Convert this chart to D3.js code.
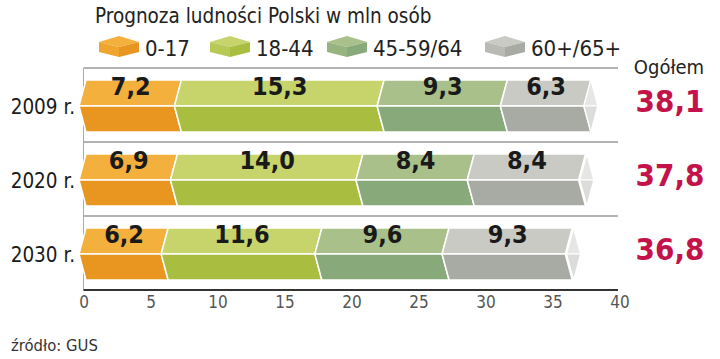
<!DOCTYPE html>
<html><head><meta charset="utf-8">
<script src="https://cdn.jsdelivr.net/npm/d3@7"></script>
<style>
html,body{margin:0;padding:0;background:#fff;}
svg{display:block;}
text{font-family:'Liberation Sans Narrow','DejaVu Sans Condensed','Roboto Condensed','Arial Narrow',sans-serif;font-stretch:condensed;}
</style></head>
<body>
<svg id="c" width="720" height="359"></svg>
<script>
const years = ["2009 r.", "2020 r.", "2030 r."];
const groups = ["0-17", "18-44", "45-59/64", "60+/65+"];
const v0_17 = [7.2, 6.9, 6.2];
const v18_44 = [15.3, 14.0, 11.6];
const v45_64 = [9.3, 8.4, 9.6];
const v60 = [6.3, 8.4, 9.3];
const totals = [38.1, 37.8, 36.8];
const labels = [["7,2","15,3","9,3","6,3"],["6,9","14,0","8,4","8,4"],["6,2","11,6","9,6","9,3"]];
const totalLabels = ["38,1", "37,8", "36,8"];
const ticks = [0, 5, 10, 15, 20, 25, 30, 35, 40];
const title = "Prognoza ludności Polski w mln osób";
const totalTitle = "Ogółem";
const source = "źródło: GUS";

const topCol = ["#f4b03c", "#c7d46c", "#a9c08a", "#c9cac3"];
const botCol = ["#e8961f", "#a9be40", "#88a97a", "#a8aba4"];
const sideCol = ["#f0a52e", "#b9c955", "#97b380", "#b8bab3"];

const svg = d3.select("#c");
const x = d3.scaleLinear().domain([0, 40]).range([83.5, 619.5]);
const xb = d3.scaleLinear().domain([0, 40]).range([86, 616]);
const y = d3.scaleBand().domain(years).range([68, 290]);
const series = [v0_17, v18_44, v45_64, v60];

// title
svg.append("text").attr("x", 95).attr("y", 23).attr("font-size", 20.5).attr("fill", "#222").text(title);

// legend
const legX = [99, 210, 327, 485];
groups.forEach((g, i) => {
  const lx = legX[i], ly = 36;
  const gg = svg.append("g");
  gg.append("polygon").attr("points", [[lx+20,ly],[lx+40,ly+6],[lx+20,ly+11],[lx,ly+6]].join(" ")).attr("fill", topCol[i]);
  gg.append("polygon").attr("points", [[lx,ly+6],[lx+20,ly+11],[lx+20,ly+21],[lx,ly+16]].join(" ")).attr("fill", sideCol[i]);
  gg.append("polygon").attr("points", [[lx+20,ly+11],[lx+40,ly+6],[lx+40,ly+16],[lx+20,ly+21]].join(" ")).attr("fill", botCol[i]);
  svg.append("text").attr("x", lx + 46).attr("y", 56).attr("font-size", 22).attr("fill", "#222").text(g);
});

svg.append("text").attr("x", 669).attr("y", 74).attr("text-anchor", "middle").attr("font-size", 20).attr("fill", "#222").text(totalTitle);

// separators
const seps = years.map(d => y(d));
svg.selectAll("line.sep").data(seps).enter().append("line")
  .attr("x1", x(0)).attr("x2", 618).attr("y1", d => d).attr("y2", d => d)
  .attr("stroke", "#9a9a9a").attr("stroke-width", 1.5);
svg.append("line").attr("x1", x(0)).attr("x2", x(0)).attr("y1", 68).attr("y2", 290).attr("stroke", "#aaa").attr("stroke-width", 1);

// bars
const dep = 7;
years.forEach((yr, r) => {
  const top = y(yr) + 12, bot = y(yr) + 64, mid = (top + bot) / 2;
  let cum = 0;
  const g = svg.append("g");
  series.forEach((s, i) => {
    const a = cum, b = cum + s[r];
    cum = b;
    const xa = xb(a), xe = xb(b);
    g.append("polygon").attr("points", [[xa,top],[xe,top],[xe-dep,mid],[xa-dep,mid]].join(" "))
      .attr("fill", topCol[i]).attr("stroke", "#fff").attr("stroke-width", 1.5).attr("stroke-linejoin", "round");
    g.append("polygon").attr("points", [[xa-dep,mid],[xe-dep,mid],[xe,bot],[xa,bot]].join(" "))
      .attr("fill", botCol[i]).attr("stroke", "#fff").attr("stroke-width", 1.5).attr("stroke-linejoin", "round");
    svg.append("text").attr("x", (xa + xe) / 2 - 3).attr("y", top + 15)
      .attr("text-anchor", "middle").attr("font-size", 25).attr("font-weight", "bold").attr("fill", "#1a1a1a")
      .text(labels[r][i]);
  });
  const xt = xb(totals[r]);
  g.append("polygon").attr("points", [[xt,top],[xt+dep,mid],[xt-dep,mid]].join(" ")).attr("fill", "#e6e6e4").attr("stroke", "#fff").attr("stroke-width", 1.2);
  g.append("polygon").attr("points", [[xt-dep,mid],[xt+dep,mid],[xt,bot]].join(" ")).attr("fill", "#dcdcda").attr("stroke", "#fff").attr("stroke-width", 1.2);
  svg.append("text").attr("x", 75).attr("y", mid + 8).attr("text-anchor", "end").attr("font-size", 20.5).attr("fill", "#1a1a1a").text(yr);
  svg.append("text").attr("x", 670).attr("y", mid + 6).attr("text-anchor", "middle").attr("font-size", 31).attr("font-weight", "bold").attr("fill", "#c4134a").text(totalLabels[r]);
});

// axis
const ax = svg.append("g").attr("transform", "translate(0,290)")
  .call(d3.axisBottom(x).tickValues(ticks).tickSize(0).tickPadding(6).tickFormat(d3.format("d")));
ax.select(".domain").attr("stroke", "#333").attr("stroke-width", 2).attr("d", `M${x(0)},0H618`);
ax.selectAll("text").attr("font-size", 17).attr("fill", "#555").attr("dy", "0.71em")
  .style("font-family", "'Liberation Sans Narrow','DejaVu Sans Condensed',sans-serif");

svg.append("text").attr("x", 11).attr("y", 351).attr("font-size", 16.5).attr("fill", "#333").text(source);
</script>
</body></html>
